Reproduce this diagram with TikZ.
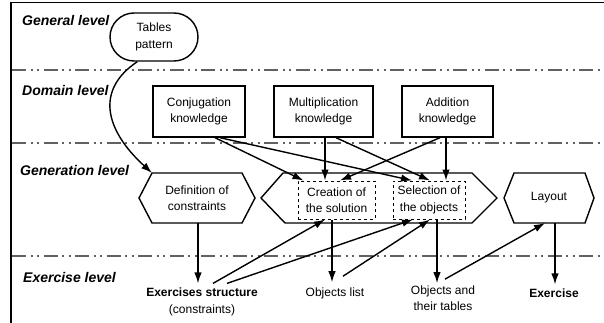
\documentclass[tikz,border=0pt]{standalone}
\usepackage{fontspec}
\setmainfont{Liberation Sans}
\usetikzlibrary{arrows.meta}
\begin{document}
\begin{tikzpicture}[x=1pt,y=-1pt,
  lvl/.style={font=\fontsize{14}{16}\selectfont\bfseries\itshape, anchor=west, inner sep=0pt},
  txt/.style={font=\fontsize{12}{16.5}\selectfont, align=center, inner sep=0pt},
  kbox/.style={draw, line width=1.4pt, minimum height=51pt, txt},
  dbox/.style={draw, dashed, line width=1pt, minimum height=38pt, txt},
  hexshape/.style={draw, line width=1.4pt},
  sep/.style={line width=2.2pt, color=black!62, dash pattern=on 14pt off 4.5pt on 2pt off 4.5pt on 2pt off 4.5pt},
  arr/.style={line width=1.4pt, -{Latex[length=11pt,width=7.5pt]}}
]
\useasboundingbox (0,0) rectangle (604,323);
% frame
\draw[line width=1.5pt] (11,323) -- (11,2.5) -- (604,2.5);
% level separators
\draw[sep] (12,70) -- (604,70);
\draw[sep] (12,143) -- (604,143);
\draw[sep] (12,256) -- (604,256);
% level labels
\node[lvl] (lg) at (22,20) {General level};
\node[lvl] (ld) at (22,90) {Domain level};
\node[lvl] (lgen) at (20,170) {Generation level};
\node[lvl] (lex) at (23,277) {Exercise level};
% general
\node[draw, line width=1.4pt, rounded corners=24pt, minimum width=88pt, minimum height=48pt, txt] (tp) at (154,37) {Tables\\pattern};
% domain
\node[kbox, minimum width=92pt] (conj) at (199,111.5) {Conjugation\\knowledge};
\node[kbox, minimum width=99pt] (mult) at (323.5,111.5) {Multiplication\\knowledge};
\node[kbox, minimum width=91pt] (add) at (447.5,111.5) {Addition\\knowledge};
% generation shapes
\draw[hexshape] (139,198) -- (152,173) -- (242,173) -- (255,198) -- (242,223) -- (152,223) -- cycle;
\node[txt] (def) at (197,198) {Definition of\\constraints};
\draw[hexshape] (261,198) -- (283,173) -- (472,173) -- (497,198) -- (472,223) -- (285,223) -- cycle;
\node[dbox, minimum width=77pt] (crea) at (336.5,200) {Creation of\\the solution};
\node[dbox, minimum width=72pt] (sel) at (429,200) {Selection of\\the objects};
\draw[hexshape] (504,198) -- (514,173) -- (585,173) -- (594,198) -- (585,223) -- (514,223) -- cycle;
\node[txt] (lay) at (549,198) {Layout};
\coordinate (defN) at (152,173);
\coordinate (defS) at (198,223);
\coordinate (layS) at (545,223);
\coordinate (layS2) at (555,223);
% exercise level texts
\node[txt, font=\fontsize{12}{16.5}\selectfont\bfseries] (exs) at (202,292) {Exercises structure};
\node[txt] (exc) at (202,310) {(constraints)};
\node[txt] (ol) at (335,293) {Objects list};
\node[txt] (ot) at (443,298) {Objects and\\their tables};
\node[txt, font=\fontsize{12}{16.5}\selectfont\bfseries] (ex) at (554,293) {Exercise};
% connectors
\draw[arr] (tp.south west) ++(28,0) coordinate (tpS) (tpS) .. controls (95,90) and (105,130) .. (defN);
\draw[arr] (defS) -- ([yshift=4pt]defS |- exs.north);
\draw[arr] ([xshift=16pt]conj.south) -- ([xshift=-33pt]crea.north);
\draw[arr] ([xshift=21pt]conj.south) -- ([xshift=-17pt]sel.north);
\draw[arr] ([xshift=1.5pt]mult.south) -- ([xshift=-11.5pt]crea.north);
\draw[arr] ([xshift=12.5pt]mult.south) -- ([xshift=1pt]sel.north);
\draw[arr] ([xshift=-7.5pt]add.south) -- ([xshift=3.5pt]crea.north);
\draw[arr] ([xshift=-1.5pt]add.south) -- ([xshift=17pt]sel.north);
\draw[arr] ([xshift=11pt,yshift=4pt]exs.north) -- ([xshift=-11.5pt]crea.south);
\draw[arr] ([xshift=25pt,yshift=4pt]exs.north) -- ([xshift=-16pt]sel.south);
\draw[arr] ([xshift=-4.5pt]crea.south) -- ([xshift=-3pt,yshift=5pt]ol.north);
\draw[arr] ([xshift=8pt,yshift=11pt]ol.north) -- ([xshift=1pt]sel.south);
\draw[arr] ([xshift=8pt]sel.south) -- ([xshift=-6pt,yshift=2pt]ot.north);
\draw[arr] ([xshift=2pt,yshift=6pt]ot.north) -- (layS);
\draw[arr] (layS2) -- ([yshift=4pt]layS2 |- ex.north);
\end{tikzpicture}
\end{document}
